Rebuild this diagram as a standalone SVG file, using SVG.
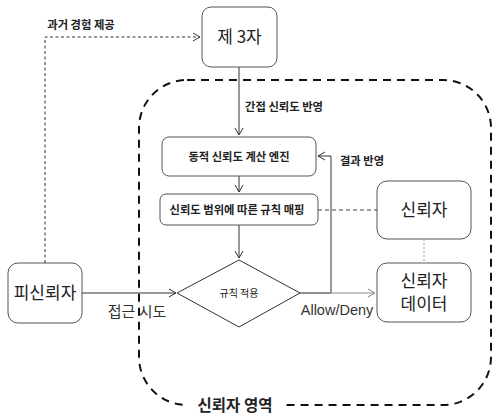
<svg xmlns="http://www.w3.org/2000/svg" width="493" height="417" viewBox="0 0 493 417">
<style>
.box{fill:#fff;stroke:#555;stroke-width:1}
.t{font-family:"Noto Sans CJK KR","Malgun Gothic",sans-serif;fill:#222;text-anchor:middle}
.big{font-size:17px}
.sm{font-size:11.3px;font-weight:bold}
.lbl{font-size:15px}
.ln{fill:none;stroke:#333;stroke-width:1}
</style>
<defs>
<marker id="ah" markerWidth="10" markerHeight="10" refX="8" refY="5" orient="auto" markerUnits="userSpaceOnUse">
<path d="M1,1 L8,5 L1,9" fill="none" stroke="#333" stroke-width="1"/>
</marker>
<marker id="ahg" markerWidth="10" markerHeight="10" refX="8" refY="5" orient="auto" markerUnits="userSpaceOnUse">
<path d="M1,1 L8,5 L1,9" fill="none" stroke="#888" stroke-width="1"/>
</marker>
</defs>
<g id="region">
<rect x="139" y="80" width="352" height="325" rx="48" fill="none" stroke="#111" stroke-width="2" stroke-dasharray="8,6"/>
<rect x="187" y="395" width="95" height="21" fill="#fff"/>
<text class="t" x="235" y="411" style="font-size:15.5px;font-weight:bold">신뢰자 영역</text>
</g>
<g id="connectors">
<path class="ln" d="M45,263 V37 H200" stroke-dasharray="3,2.5" marker-end="url(#ah)"/>
<text class="t sm" x="81" y="29">과거 경험 제공</text>
<path class="ln" d="M239,67 V135" marker-end="url(#ah)"/>
<text class="t sm" x="284" y="111">간접 신뢰도 반영</text>
<path class="ln" d="M239,176 V192" marker-end="url(#ah)"/>
<path class="ln" d="M239,225 V258" marker-end="url(#ah)"/>
<path class="ln" d="M300,293 H331 V156 H318" marker-end="url(#ah)"/>
<text class="t sm" x="362" y="165">결과 반영</text>
<path class="ln" d="M82,293 H176" marker-end="url(#ah)"/>
<text class="t lbl" x="137" y="317" style="fill:#333">접근 시도</text>
<path d="M300,293 H375" fill="none" stroke="#888" stroke-width="1" marker-end="url(#ahg)"/>
<text x="337" y="315" style="font-family:'Liberation Sans',Arial,sans-serif;font-size:14.5px;fill:#333;text-anchor:middle">Allow/Deny</text>
<path d="M318,210 H377" fill="none" stroke="#444" stroke-width="1" stroke-dasharray="4,3"/>
<path d="M424,239 V263" fill="none" stroke="#999" stroke-width="1" stroke-dasharray="2,2"/>
</g>
<g id="third">
<rect class="box" x="202" y="7" width="75" height="60" rx="9"/>
<text class="t big" x="239.5" y="43">제 3자</text>
</g>
<g id="engine">
<rect class="box" x="162" y="137" width="154" height="39" rx="7"/>
<text class="t sm" x="239" y="161">동적 신뢰도 계산 엔진</text>
</g>
<g id="mapping">
<rect class="box" x="160" y="194" width="158" height="31" rx="6"/>
<text class="t sm" x="237" y="214">신뢰도 범위에 따른 규칙 매핑</text>
</g>
<g id="rule">
<path d="M239,260 L300,293 L239,327 L177,293 Z" fill="#fff" stroke="#333" stroke-width="1"/>
<text class="t" x="239" y="297" style="font-size:10px">규칙 적용</text>
</g>
<g id="truster">
<rect class="box" x="377" y="181" width="94" height="58" rx="10"/>
<text class="t big" x="424" y="216">신뢰자</text>
</g>
<g id="trusterdata">
<rect class="box" x="377" y="263" width="94" height="59" rx="10"/>
<text class="t big" x="424" y="287">신뢰자</text>
<text class="t big" x="424" y="310">데이터</text>
</g>
<g id="trustee">
<rect class="box" x="8" y="263" width="74" height="60" rx="10"/>
<text class="t big" x="45" y="299">피신뢰자</text>
</g>
</svg>
